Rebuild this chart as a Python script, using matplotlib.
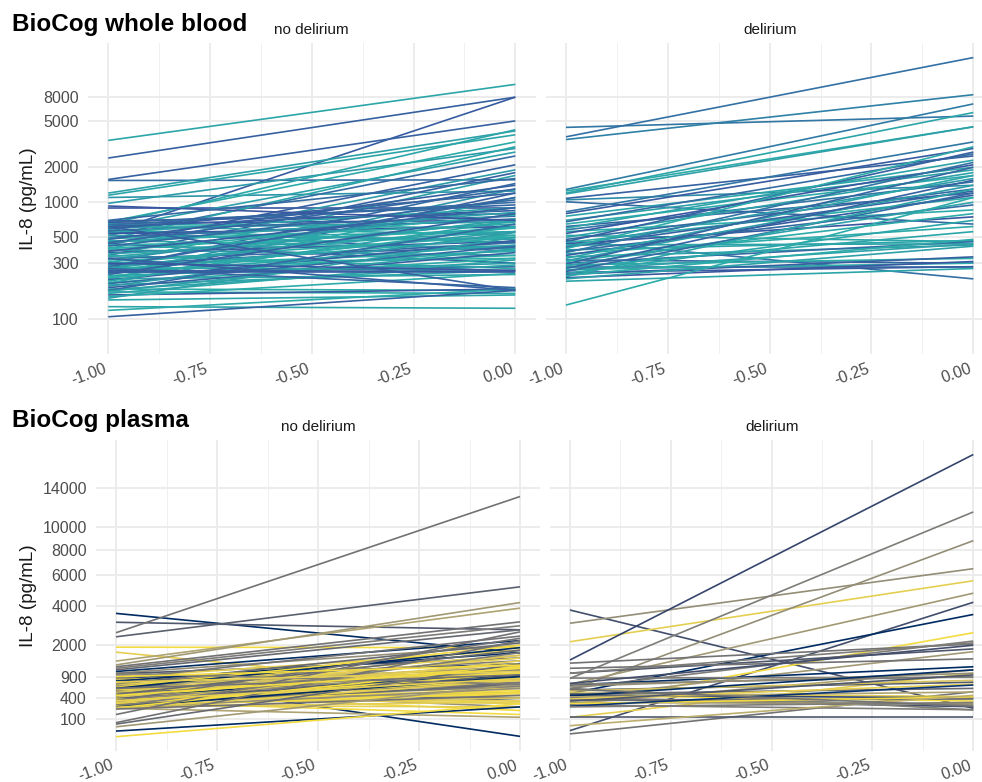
import numpy as np
import matplotlib
matplotlib.use("Agg")
import matplotlib.pyplot as plt
from matplotlib.colors import LinearSegmentedColormap
from matplotlib.ticker import NullLocator

plt.rcParams['font.family'] = ['Liberation Sans', 'DejaVu Sans']

timepoints = [-1.0, 0.0]

# BioCog whole blood, no delirium
wb_nodel_start = [3400, 2400, 550, 1570, 1540, 1200, 1150, 1100, 980, 890,
                  680, 650, 600, 520, 480, 430, 400, 350, 300, 270,
                  240, 220, 200, 690, 670, 660, 650, 640, 630, 620,
                  600, 590, 580, 570, 560, 550, 540, 520, 500, 490,
                  480, 470, 460, 450, 440, 430, 420, 410, 400, 390,
                  380, 370, 360, 350, 340, 330, 320, 310, 300, 295,
                  290, 285, 280, 275, 270, 265, 260, 255, 250, 245,
                  240, 235, 230, 225, 220, 215, 210, 205, 200, 195,
                  190, 185, 180, 178, 175, 172, 170, 165, 160, 155,
                  150, 145, 127, 118, 104, 330, 270, 930, 260, 250,
                  300, 620, 700, 450, 380]
wb_nodel_end = [10300, 8000, 8000, 5000, 1560, 4100, 3800, 1250, 2900, 890,
                3300, 4200, 2700, 2500, 3000, 2100, 1900, 1800, 1700, 1450,
                1300, 1200, 1100, 800, 950, 700, 600, 1000, 520, 850,
                680, 1200, 450, 760, 380, 900, 620, 480, 720, 560,
                1400, 400, 650, 820, 300, 500, 1050, 420, 600, 350,
                780, 460, 560, 270, 680, 410, 900, 520, 330, 620,
                450, 380, 1100, 260, 720, 500, 350, 560, 280, 430,
                800, 300, 610, 390, 240, 470, 700, 330, 420, 260,
                550, 370, 175, 290, 650, 400, 165, 320, 180, 245,
                500, 160, 123, 180, 175, 175, 185, 700, 255, 250,
                260, 175, 1600, 1300, 900]
wb_nodel_col = [.85, .2, .15, .2, .3, .8, .85, .7, .75, .1,
                .9, .85, .8, .3, .85, .2, .75, .2, .8, .3,
                .7, .2, .85, .2, .25, .1, .9, .3, .85, .15,
                .8, .2, .9, .3, .2, .85, .1, .8, .35, .9,
                .2, .85, .9, .8, .2, .9, .3, .85, .95, .75,
                .9, .2, .8, .9, .85, .3, .7, .9, .95, .85,
                .3, .9, .25, .85, .8, .9, .9, .8, .35, .85,
                .2, .75, .9, .95, .8, .2, .85, .9, .3, .85,
                .75, .2, .9, .85, .3, .8, .9, .85, .15, .9,
                .8, .85, .85, .9, .2, .2, .25, .1, .2, .15,
                .1, .2, .3, .25, .2]

# BioCog whole blood, delirium
wb_del_start = [4400, 3650, 3460, 1290, 1250, 1200, 1180, 1080, 1050, 1010,
                830, 800, 760, 700, 680, 650, 620, 600, 580, 560,
                540, 520, 500, 480, 470, 460, 450, 440, 430, 420,
                410, 400, 390, 380, 370, 360, 350, 340, 330, 320,
                315, 310, 300, 295, 290, 285, 280, 275, 270, 265,
                260, 255, 250, 245, 240, 235, 230, 225, 220, 210,
                131]
wb_del_end = [5500, 17500, 8400, 7000, 4450, 5900, 4450, 2500, 1400, 650,
              3300, 2900, 2000, 1900, 2600, 1700, 1200, 2300, 1500, 860,
              2100, 460, 1800, 1300, 220, 2700, 1100, 750, 440, 1600,
              1250, 3000, 470, 950, 2200, 620, 1150, 430, 1700, 300,
              1400, 800, 460, 2000, 330, 1000, 280, 560, 1550, 300,
              440, 1200, 280, 700, 340, 480, 1300, 310, 420, 270,
              1100]
wb_del_col = [.4, .35, .5, .45, .9, .85, .8, .2, .6, .3,
              .4, .15, .85, .8, .3, .9, .2, .85, .4, .9,
              .1, .85, .8, .3, .35, .2, .9, .1, .85, .75,
              .2, .9, .85, .3, .4, .9, .15, .8, .85, .2,
              .75, .9, .3, .25, .9, .8, .35, .85, .2, .9,
              .8, .3, .15, .85, .2, .9, .85, .1, .8, .85,
              .9]

# BioCog plasma, no delirium
pl_nodel_start = [3560, 3080, 2560, 2370, 1920, 1720, 1390, 1260, 1200, 1150,
                  1100, 1050, 1000, 980, 950, 900, 880, 860, 840, 820,
                  800, 780, 760, 740, 720, 700, 690, 680, 670, 660,
                  650, 640, 630, 620, 610, 600, 590, 580, 570, 560,
                  550, 540, 530, 520, 510, 500, 490, 480, 470, 460,
                  450, 440, 430, 420, 410, 400, 390, 380, 370, 360,
                  350, 340, 330, 320, 310, 300, 290, 280, 270, 260,
                  255, 250, 245, 240, 235, 230, 225, 220, 71, 60,
                  42, 20, 3.4, 150, 1000, 900, 750, 600, 450, 350]
pl_nodel_end = [1700, 2700, 13100, 5200, 1900, 530, 3860, 4190, 3100, 2900,
                2700, 2200, 2000, 1500, 800, 4, 1800, 1300, 2400, 1100,
                600, 1700, 900, 1400, 500, 2100, 1000, 350, 1600, 750,
                1200, 300, 900, 2000, 650, 1900, 450, 1100, 800, 250,
                1500, 700, 1000, 400, 1300, 600, 850, 200, 1800, 500,
                950, 300, 1200, 700, 1600, 450, 900, 350, 1100, 550,
                2300, 800, 150, 650, 1400, 400, 1000, 700, 250, 1700,
                500, 900, 330, 600, 1200, 120, 800, 450, 2200, 1300,
                700, 250, 300, 2600, 700, 1250, 1050, 950, 1150, 850]
pl_nodel_col = [.05, .3, .45, .35, .95, .9, .7, .65, .45, .5,
                .4, .05, .6, .3, .5, .05, .9, .2, .45, .95,
                .6, .05, .9, .5, .95, .4, .85, .3, .9, .5,
                .7, .95, .45, .95, .9, .05, .85, .5, .95, .6,
                .9, .3, .95, .45, .85, .9, .5, .95, .4, .9,
                .05, .9, .95, .5, .85, .95, .3, .9, .6, .95,
                .45, .9, .95, .5, .9, .85, .95, .4, .9, .5,
                .95, .05, .9, .6, .95, .7, .9, .45, .45, .4,
                .65, .05, .95, .45, .5, .95, .9, .45, .95, .9]

# BioCog plasma, delirium
pl_del_start = [3750, 3030, 2150, 1430, 850, 560, 700, 22, 490, 280,
                600, 1320, 1000, 400, 1150, 680, 300, 120, 860, 560,
                10, 500, 450, 380, 600, 126, 700, 650, 540, 480,
                460, 440, 420, 400, 380, 360, 340, 320, 300, 280,
                260, 49, 250, 580, 720, 1000]
pl_del_end = [230, 6500, 5620, 18000, 11500, 8790, 4780, 4210, 3500, 2560,
              2180, 2050, 1850, 1740, 1470, 1200, 1100, 1000, 880, 750,
              525, 425, 345, 253, 207, 126, 900, 1000, 800, 600,
              400, 1100, 520, 280, 700, 380, 950, 300, 420, 210,
              680, 450, 320, 260, 2000, 2100]
pl_del_col = [.25, .6, .9, .2, .5, .6, .65, .25, .05, .95,
              .5, .45, .3, .65, .45, .05, .7, .9, .5, .3,
              .45, .9, .95, .25, .5, .3, .5, .6, .85, .4,
              .2, .05, .7, .5, .9, .45, .3, .65, .95, .5,
              .1, .75, .5, .45, .25, .5]

wb_ticks = [100, 300, 500, 1000, 2000, 5000, 8000]
pl_ticks = [100, 400, 900, 2000, 4000, 6000, 8000, 10000, 14000]
x_ticks = [-1.0, -0.75, -0.5, -0.25, 0.0]
x_labels = ["-1.00", "-0.75", "-0.50", "-0.25", "0.00"]
facets = ["no delirium", "delirium"]

W, H = 982, 782
fig = plt.figure(figsize=(W / 100, H / 100), dpi=100)
fig.patch.set_facecolor("white")


def rect(x0, x1, y0, y1):
    return [x0 / W, 1 - y1 / H, (x1 - x0) / W, (y1 - y0) / H]


wb_cmap = LinearSegmentedColormap.from_list("wb", ["#3b4c9e", "#2f80a6", "#2bb5aa"])
pl_cmap = plt.get_cmap("cividis")


def sq_fwd(v):
    v = np.asarray(v, dtype=float)
    return np.sign(v) * np.sqrt(np.abs(v))


def sq_inv(v):
    v = np.asarray(v, dtype=float)
    return np.sign(v) * v ** 2


def style(ax, show_y):
    for s in ax.spines.values():
        s.set_visible(False)
    ax.set_xlim(-1.05, 0.05)
    ax.set_xticks(x_ticks)
    ax.set_xticklabels(x_labels, rotation=20, ha="right", va="top")
    ax.set_xticks([-0.875, -0.625, -0.375, -0.125], minor=True)
    ax.grid(which="major", color="#ebebeb", lw=1.3)
    ax.grid(which="minor", axis="x", color="#f0f0f0", lw=0.7)
    ax.set_axisbelow(True)
    ax.tick_params(which="both", length=0, labelsize=11.5, labelcolor="#4d4d4d")
    ax.tick_params(axis="x", pad=5)
    ax.tick_params(axis="y", pad=6.5)
    if not show_y:
        ax.tick_params(axis="y", labelleft=False)


def draw(ax, start, end, col, cmap):
    for s, e, c in zip(start, end, col):
        ax.plot(timepoints, [s, e], color=cmap(c), lw=1.2, solid_capstyle="butt")


panels = [
    (rect(87.9, 535.7, 43.3, 354), wb_nodel_start, wb_nodel_end, wb_nodel_col, wb_cmap, "wb", True, facets[0]),
    (rect(545.6, 993.7, 43.3, 354), wb_del_start, wb_del_end, wb_del_col, wb_cmap, "wb", False, facets[1]),
    (rect(95.8, 540.2, 440, 750.7), pl_nodel_start, pl_nodel_end, pl_nodel_col, pl_cmap, "pl", True, facets[0]),
    (rect(549.8, 993.5, 440, 750.7), pl_del_start, pl_del_end, pl_del_col, pl_cmap, "pl", False, facets[1]),
]

for r, st, en, co, cm, kind, show_y, lab in panels:
    ax = fig.add_axes(r)
    draw(ax, st, en, co, cm)
    if kind == "wb":
        ax.set_yscale("log")
        ax.set_ylim(49.8, 23200)
        ax.set_yticks(wb_ticks)
        ax.set_yticklabels([str(t) for t in wb_ticks])
        ax.yaxis.set_minor_locator(NullLocator())
        strip_y = 1 - 34 / H
    else:
        ax.set_yscale("function", functions=(sq_fwd, sq_inv))
        ax.set_ylim(-22.3, 19870)
        ax.set_yticks(pl_ticks)
        ax.set_yticklabels([str(t) for t in pl_ticks])
        ax.yaxis.set_minor_locator(NullLocator())
        strip_y = 1 - 430.7 / H
    style(ax, show_y)
    cx = r[0] + r[2] / 2
    fig.text(cx, strip_y, lab, ha="center", va="baseline", fontsize=11, color="#1a1a1a")
    if show_y:
        fig.text(28.8 / W, r[1] + r[3] / 2, "IL-8 (pg/mL)", rotation=90,
                 ha="center", va="center", fontsize=13.6, color="#1a1a1a")

fig.text(12 / W, 1 - 30.7 / H, "BioCog whole blood", fontsize=17.5,
         fontweight="bold", va="baseline", ha="left")
fig.text(12 / W, 1 - 426.7 / H, "BioCog plasma", fontsize=17.5,
         fontweight="bold", va="baseline", ha="left")

fig.savefig("out.png", dpi=100, facecolor="white")
